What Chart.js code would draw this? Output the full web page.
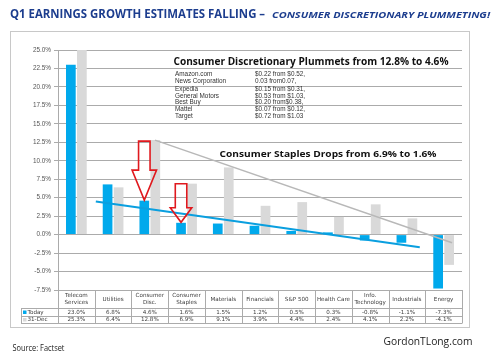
<!DOCTYPE html>
<html>
<head>
<meta charset="utf-8">
<script src="https://cdn.jsdelivr.net/npm/chart.js@4/dist/chart.umd.min.js"></script>
<style>
html,body{margin:0;padding:0;background:#fff;}
#wrap{position:relative;width:500px;height:353px;}
</style>
</head>
<body>
<div id="wrap"><canvas id="c" width="500" height="353"></canvas></div>
<script>
// ---------- DATA ----------
const categories = [['Telecom','Services'],['Utilities'],['Consumer','Disc.'],['Consumer','Staples'],['Materials'],['Financials'],['S&P 500'],['Health Care'],['Info.','Technology'],['Industrials'],['Energy']];
const seriesLabels = ['Today','31-Dec'];
const todayValues = [23.0, 6.8, 4.6, 1.6, 1.5, 1.2, 0.5, 0.3, -0.8, -1.1, -7.3];
const dec31Values = [25.3, 6.4, 12.8, 6.9, 9.1, 3.9, 4.4, 2.4, 4.1, 2.2, -4.1];
const yTickValues = [-7.5, -5.0, -2.5, 0.0, 2.5, 5.0, 7.5, 10.0, 12.5, 15.0, 17.5, 20.0, 22.5, 25.0];
const titleMain = 'Q1 EARNINGS GROWTH ESTIMATES FALLING \u2013 ';
const titleSub = 'CONSUMER DISCRETIONARY PLUMMETING!';
const discHeadline = 'Consumer Discretionary Plummets from 12.8% to 4.6%';
const discCompanies = ['Amazon.com','News Corporation','Expedia','General Motors','Best Buy','Mattel','Target'];
const discEstimates = ['$0.22 from $0.52,','0.03 from0.07,','$0.15 from $0.31,','$0.53 from $1.03,','$0.20 from$0.38,','$0.07 from $0.12,','$0.72 from $1.03'];
const staplesHeadline = 'Consumer Staples Drops from 6.9% to 1.6%';
// trend lines: [category index (fractional), value %]
const grayTrend = [[2.14, 12.8], [10.23, -1.1]];
const blueTrend = [[0.53, 4.47], [9.35, -1.72]];
const arrowTargets = [2, 3]; // categories pointed at (Today bars)
const sourceText = 'Source: Factset';
const siteText = 'GordonTLong.com';

// ---------- STYLE ----------
const BLUE = '#00A9EC';
const LGRAY = '#D9D9D9';
const GRID = '#ABABAB';
const TXT = '#404040';

function fitText(ctx, text, x, y, width, font, color) {
  ctx.save();
  ctx.font = font;
  ctx.fillStyle = color;
  ctx.textBaseline = 'alphabetic';
  ctx.textAlign = 'left';
  const w = ctx.measureText(text).width;
  const s = width ? width / w : 1;
  ctx.translate(x, y);
  ctx.scale(s, 1);
  ctx.fillText(text, 0, 0);
  ctx.restore();
}

const decor = {
  id: 'decor',
  beforeDraw(chart) {
    const ctx = chart.ctx;
    ctx.save();
    ctx.fillStyle = '#fff';
    ctx.fillRect(0, 0, chart.width, chart.height);
    ctx.strokeStyle = '#C8C8C8';
    ctx.lineWidth = 1;
    ctx.strokeRect(10.5, 31.5, 459, 296);
    ctx.restore();
  },
  afterDatasetsDraw(chart) {
    const ctx = chart.ctx;
    const xs = chart.scales.x, ys = chart.scales.y;
    const x0 = xs.getPixelForValue(0);
    const step = xs.getPixelForValue(1) - x0;
    const px = i => x0 + i * step;
    ctx.save();
    // gray trend
    ctx.strokeStyle = '#B8B8B8';
    ctx.lineWidth = 1.5;
    ctx.beginPath();
    ctx.moveTo(px(grayTrend[0][0]), ys.getPixelForValue(grayTrend[0][1]));
    ctx.lineTo(px(grayTrend[1][0]), ys.getPixelForValue(grayTrend[1][1]));
    ctx.stroke();
    // blue trend
    ctx.strokeStyle = '#0A9FDF';
    ctx.lineWidth = 2;
    ctx.beginPath();
    ctx.moveTo(px(blueTrend[0][0]), ys.getPixelForValue(blueTrend[0][1]));
    ctx.lineTo(px(blueTrend[1][0]), ys.getPixelForValue(blueTrend[1][1]));
    ctx.stroke();
    // arrows
    const meta = chart.getDatasetMeta(0);
    const specs = [{len: 59, shaft: 11.5, head: 24.5, headL: 30}, {len: 38.5, shaft: 11.5, head: 21.5, headL: 14.5}];
    arrowTargets.forEach((ci, k) => {
      const bar = meta.data[ci];
      const s = specs[k];
      const tx = bar.x, ty = bar.y - 0.5;
      const top = ty - s.len, hb = ty - s.headL;
      ctx.beginPath();
      ctx.moveTo(tx - s.shaft / 2, top);
      ctx.lineTo(tx + s.shaft / 2, top);
      ctx.lineTo(tx + s.shaft / 2, hb);
      ctx.lineTo(tx + s.head / 2, hb);
      ctx.lineTo(tx, ty);
      ctx.lineTo(tx - s.head / 2, hb);
      ctx.lineTo(tx - s.shaft / 2, hb);
      ctx.closePath();
      ctx.strokeStyle = '#E0191E';
      ctx.lineWidth = 1.6;
      ctx.lineJoin = 'miter';
      ctx.stroke();
    });
    ctx.restore();
  },
  afterDraw(chart) {
    const ctx = chart.ctx;
    const xs = chart.scales.x, ys = chart.scales.y;
    const area = chart.chartArea;
    const L = area.left, R = area.right, B = area.bottom;
    const step = xs.getPixelForValue(1) - xs.getPixelForValue(0);
    const rowH = 308, rowT = 316, rowD = 323, legL = 21;
    ctx.save();
    // axis line extended through table
    ctx.strokeStyle = GRID;
    ctx.lineWidth = 1;
    ctx.beginPath();
    ctx.moveTo(L + 0.5, area.top); ctx.lineTo(L + 0.5, rowD + 0.5);
    // table horizontal lines
    ctx.moveTo(L, B + 0.5); ctx.lineTo(R, B + 0.5);
    [rowH, rowT, rowD].forEach(y => { ctx.moveTo(legL, y + 0.5); ctx.lineTo(R, y + 0.5); });
    ctx.moveTo(legL + 0.5, rowH); ctx.lineTo(legL + 0.5, rowD + 0.5);
    for (let i = 1; i <= categories.length; i++) {
      const x = Math.round(L + i * step) + 0.5;
      ctx.moveTo(x, B); ctx.lineTo(x, rowD + 0.5);
    }
    ctx.stroke();
    // table text
    ctx.fillStyle = TXT;
    ctx.textAlign = 'center';
    ctx.textBaseline = 'middle';
    ctx.font = '5.6px "DejaVu Sans"';
    categories.forEach((lab, i) => {
      const cx = xs.getPixelForValue(i);
      if (lab.length === 1) ctx.fillText(lab[0], cx, 299.5);
      else { ctx.fillText(lab[0], cx, 295.5); ctx.fillText(lab[1], cx, 302.5); }
      ctx.fillText(todayValues[i].toFixed(1) + '%', cx, 312.3);
      ctx.fillText(dec31Values[i].toFixed(1) + '%', cx, 319.8);
    });
    // legend keys
    ctx.textAlign = 'left';
    ctx.fillStyle = BLUE; ctx.fillRect(23, 310.5, 3.5, 3.5);
    ctx.fillStyle = LGRAY; ctx.fillRect(23, 318, 3.5, 3.5);
    ctx.fillStyle = TXT;
    ctx.fillText(seriesLabels[0], 27.5, 312.3);
    ctx.fillText(seriesLabels[1], 27.5, 319.8);

    // title
    fitText(ctx, titleMain, 10, 18.3, 258, 'bold 11.8px "Open Sans"', '#1C3D8E');
    fitText(ctx, titleSub, 272, 18.3, 218, 'italic bold 9.4px "Open Sans"', '#1C3D8E');
    // annotations
    fitText(ctx, discHeadline, 173.5, 65, 275, 'bold 10.8px "Open Sans"', '#111');
    const rows = [74.3, 81.6, 88.9, 96, 102.6, 109.3, 116.5];
    ctx.font = '6.4px "Liberation Sans"';
    ctx.fillStyle = '#333';
    ctx.textBaseline = 'middle';
    ctx.textAlign = 'left';
    discCompanies.forEach((n, i) => {
      ctx.fillText(n, 175, rows[i]);
      ctx.fillText(discEstimates[i], 255, rows[i]);
    });
    fitText(ctx, staplesHeadline, 219.5, 156.7, 217, 'bold 9.6px "Open Sans"', '#111');
    // footer
    fitText(ctx, sourceText, 12.5, 351, 52, '8.2px "Open Sans"', '#222');
    fitText(ctx, siteText, 383.5, 345.2, 89, '11.6px "Open Sans"', '#222');
    ctx.restore();
  }
};

new Chart(document.getElementById('c'), {
  type: 'bar',
  data: {
    labels: categories.map(c => c.join(' ')),
    datasets: [
      {label: seriesLabels[0], data: todayValues, backgroundColor: BLUE, categoryPercentage: 0.6, barPercentage: 0.88},
      {label: seriesLabels[1], data: dec31Values, backgroundColor: LGRAY, categoryPercentage: 0.6, barPercentage: 0.88}
    ]
  },
  options: {
    responsive: false,
    animation: false,
    devicePixelRatio: 1,
    layout: {padding: {left: 0, top: 50, right: 38, bottom: 63}},
    plugins: {legend: {display: false}, tooltip: {enabled: false}, title: {display: false}},
    scales: {
      x: {display: false, offset: true},
      y: {
        min: -7.5, max: 25,
        afterFit(axis) { axis.width = 58; },
        afterBuildTicks(axis) { axis.ticks = yTickValues.map(v => ({value: v})); },
        ticks: {
          padding: 3,
          color: '#555',
          font: {family: '"Liberation Sans"', size: 6.4},
          callback: v => Number(v).toFixed(1) + '%'
        },
        grid: {color: GRID, tickLength: 4, lineWidth: 1},
        border: {display: true, color: GRID}
      }
    }
  },
  plugins: [decor]
});
</script>
</body>
</html>
